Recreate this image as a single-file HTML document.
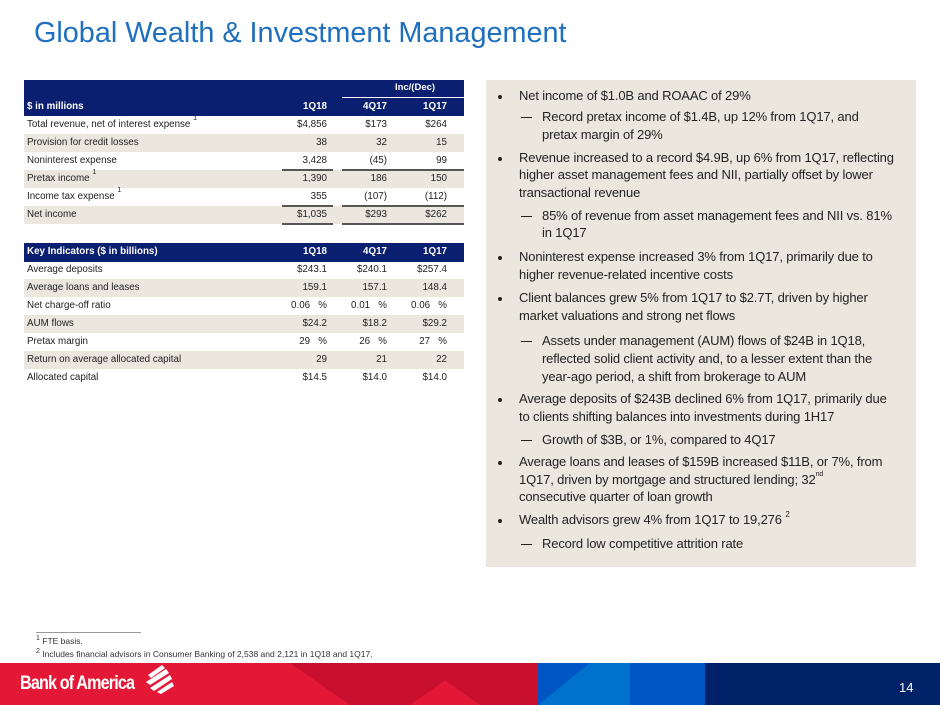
<!DOCTYPE html>
<html><head><meta charset="utf-8"><style>
*{margin:0;padding:0;box-sizing:border-box}
body{width:940px;height:705px;position:relative;background:#fff;font-family:"Liberation Sans",sans-serif;overflow:hidden;color:#222}
.a{position:absolute;white-space:nowrap}
.title{left:34px;top:17px;font-size:28.8px;color:#1f6fbf}
.hdr{position:absolute;left:24px;width:440px;background:#0b1f70}
.row{position:absolute;left:24px;width:440px;height:18px;font-size:9.8px;line-height:18px}
.row.g{background:#ebe7df}
.row span{position:absolute;white-space:nowrap}
.l{left:3px}
.c1{right:137px}.c2{right:77px}.c3{right:17px}
.hw{color:#fff;font-weight:bold}
.ul{position:absolute;height:2px;background:#555}
.box{position:absolute;left:486px;top:80px;width:430px;height:487px;background:#ebe7df}
.t{position:absolute;font-size:13px;white-space:nowrap;color:#222;letter-spacing:-0.15px}
.b{left:519px}.s{left:542px}
.dot{position:absolute;left:498px;width:4px;height:4px;border-radius:50%;background:#222}
.dash{position:absolute;left:521px;width:11px;height:1px;background:#222}
sup{font-size:7px;vertical-align:top;line-height:0;position:relative;top:3px}
</style></head><body>
<div class="a title">Global Wealth &amp; Investment Management</div>

<div class="hdr" style="top:80px;height:36px"></div>
<div class="a hw" style="left:365px;top:82px;width:100px;text-align:center;font-size:9.5px">Inc/(Dec)</div>
<div style="position:absolute;left:342px;top:97px;width:122px;height:1px;background:#fff"></div>
<div class="row" style="top:98px"><span class="l hw">$ in millions</span><span class="c1 hw">1Q18</span><span class="c2 hw">4Q17</span><span class="c3 hw">1Q17</span></div>
<div class="row" style="top:116px"><span class="l">Total revenue, net of interest expense <sup>1</sup></span><span class="c1">$4,856</span><span class="c2">$173</span><span class="c3">$264</span></div>
<div class="row g" style="top:134px"><span class="l">Provision for credit losses</span><span class="c1">38</span><span class="c2">32</span><span class="c3">15</span></div>
<div class="row" style="top:152px"><span class="l">Noninterest expense</span><span class="c1">3,428</span><span class="c2">(45)</span><span class="c3">99</span></div>
<div class="row g" style="top:170px"><span class="l">Pretax income <sup>1</sup></span><span class="c1">1,390</span><span class="c2">186</span><span class="c3">150</span></div>
<div class="row" style="top:188px"><span class="l">Income tax expense <sup>1</sup></span><span class="c1">355</span><span class="c2">(107)</span><span class="c3">(112)</span></div>
<div class="row g" style="top:206px"><span class="l">Net income</span><span class="c1">$1,035</span><span class="c2">$293</span><span class="c3">$262</span></div>
<div class="ul" style="left:282px;top:169px;width:51px;height:1.5px"></div>
<div class="ul" style="left:342px;top:169px;width:122px;height:1.5px"></div>
<div class="ul" style="left:282px;top:205px;width:51px;height:1.5px"></div>
<div class="ul" style="left:342px;top:205px;width:122px;height:1.5px"></div>
<div class="ul" style="left:282px;top:223px;width:51px;height:2px"></div>
<div class="ul" style="left:342px;top:223px;width:122px;height:2px"></div>

<div class="hdr" style="top:243px;height:19px"></div>
<div class="row" style="top:243px"><span class="l hw">Key Indicators ($ in billions)</span><span class="c1 hw">1Q18</span><span class="c2 hw">4Q17</span><span class="c3 hw">1Q17</span></div>
<div class="row" style="top:261px"><span class="l">Average deposits</span><span class="c1">$243.1</span><span class="c2">$240.1</span><span class="c3">$257.4</span></div>
<div class="row g" style="top:279px"><span class="l">Average loans and leases</span><span class="c1">159.1</span><span class="c2">157.1</span><span class="c3">148.4</span></div>
<div class="row" style="top:297px"><span class="l">Net charge-off ratio</span><span class="c1">0.06 &nbsp;&nbsp;%</span><span class="c2">0.01 &nbsp;&nbsp;%</span><span class="c3">0.06 &nbsp;&nbsp;%</span></div>
<div class="row g" style="top:315px"><span class="l">AUM flows</span><span class="c1">$24.2</span><span class="c2">$18.2</span><span class="c3">$29.2</span></div>
<div class="row" style="top:333px"><span class="l">Pretax margin</span><span class="c1">29 &nbsp;&nbsp;%</span><span class="c2">26 &nbsp;&nbsp;%</span><span class="c3">27 &nbsp;&nbsp;%</span></div>
<div class="row g" style="top:351px"><span class="l">Return on average allocated capital</span><span class="c1">29</span><span class="c2">21</span><span class="c3">22</span></div>
<div class="row" style="top:369px"><span class="l">Allocated capital</span><span class="c1">$14.5</span><span class="c2">$14.0</span><span class="c3">$14.0</span></div>

<div class="box"></div>
<div class="dot" style="top:95px"></div><div class="t b" style="top:88px">Net income of $1.0B and ROAAC of 29%</div>
<div class="dash" style="top:117px"></div><div class="t s" style="top:109px">Record pretax income of $1.4B, up 12% from 1Q17, and</div>
<div class="t s" style="top:127px">pretax margin of 29%</div>
<div class="dot" style="top:157px"></div><div class="t b" style="top:150px">Revenue increased to a record $4.9B, up 6% from 1Q17, reflecting</div>
<div class="t b" style="top:167px">higher asset management fees and NII, partially offset by lower</div>
<div class="t b" style="top:185px">transactional revenue</div>
<div class="dash" style="top:216px"></div><div class="t s" style="top:208px">85% of revenue from asset management fees and NII vs. 81%</div>
<div class="t s" style="top:225px">in 1Q17</div>
<div class="dot" style="top:256px"></div><div class="t b" style="top:249px">Noninterest expense increased 3% from 1Q17, primarily due to</div>
<div class="t b" style="top:267px">higher revenue-related incentive costs</div>
<div class="dot" style="top:297px"></div><div class="t b" style="top:290px">Client balances grew 5% from 1Q17 to $2.7T, driven by higher</div>
<div class="t b" style="top:308px">market valuations and strong net flows</div>
<div class="dash" style="top:341px"></div><div class="t s" style="top:333px">Assets under management (AUM) flows of $24B in 1Q18,</div>
<div class="t s" style="top:351px">reflected solid client activity and, to a lesser extent than the</div>
<div class="t s" style="top:369px">year-ago period, a shift from brokerage to AUM</div>
<div class="dot" style="top:398px"></div><div class="t b" style="top:391px">Average deposits of $243B declined 6% from 1Q17, primarily due</div>
<div class="t b" style="top:409px">to clients shifting balances into investments during 1H17</div>
<div class="dash" style="top:440px"></div><div class="t s" style="top:432px">Growth of $3B, or 1%, compared to 4Q17</div>
<div class="dot" style="top:461px"></div><div class="t b" style="top:454px">Average loans and leases of $159B increased $11B, or 7%, from</div>
<div class="t b" style="top:472px">1Q17, driven by mortgage and structured lending; 32<sup>nd</sup></div>
<div class="t b" style="top:489px">consecutive quarter of loan growth</div>
<div class="dot" style="top:519px"></div><div class="t b" style="top:512px">Wealth advisors grew 4% from 1Q17 to 19,276 <sup style="font-size:8px">2</sup></div>
<div class="dash" style="top:544px"></div><div class="t s" style="top:536px">Record low competitive attrition rate</div>

<div style="position:absolute;left:36px;top:632px;width:105px;height:1px;background:#999"></div>
<div class="a" style="left:36px;top:636px;font-size:8.5px;color:#333"><sup>1</sup> FTE basis.</div>
<div class="a" style="left:36px;top:649px;font-size:8.5px;color:#333"><sup>2</sup> Includes financial advisors in Consumer Banking of 2,538 and 2,121 in 1Q18 and 1Q17.</div>

<svg style="position:absolute;left:0;top:663px" width="940" height="42">
<rect x="0" y="0" width="540" height="42" fill="#e31837"/>
<polygon points="290,0 470,0 410,42 350,42" fill="#c8102e"/>
<polygon points="420,0 540,0 540,42 480,42" fill="#c8102e"/>
<rect x="538" y="0" width="92" height="42" fill="#0072ce"/>
<polygon points="538,0 590,0 538,42" fill="#0055c4"/>
<rect x="630" y="0" width="75" height="42" fill="#0055c4"/>
<rect x="705" y="0" width="235" height="42" fill="#012169"/>
<g fill="#fff"><polygon points="148,12 162,2 165,5 151,15"/><polygon points="146,19 166,6 169,10 150,22"/><polygon points="150,25 170,12 172,16 154,28"/><polygon points="157,29 172,19 174,23 161,31"/></g>
</svg>
<div class="a" style="left:20px;top:673px;font-size:19px;font-weight:bold;color:#fff;letter-spacing:-1px;transform:scaleX(0.85);transform-origin:left">Bank of America</div>
<div class="a" style="left:899px;top:680px;font-size:13px;color:#fff">14</div>
</body></html>
